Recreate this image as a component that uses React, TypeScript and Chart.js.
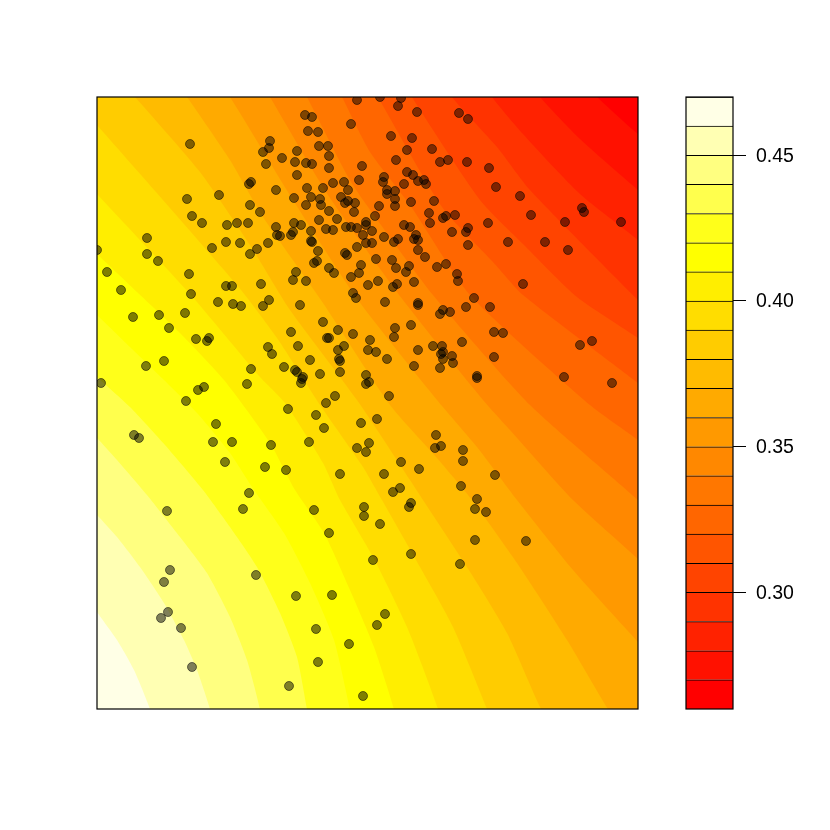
import React, { useEffect, useRef } from "react";
import { Chart, registerables } from "chart.js";

Chart.register(...registerables);

const pointX = [190,270,269,263,266,251,249,276,219,187,250,260,192,202,227,237,248,276,277,147,226,240,268,212,257,250,147,158,97,107,189,226,232,261,121,191,269,
357,305,312,351,308,318,319,328,297,329,282,295,306,312,329,362,297,359,333,344,307,323,348,294,311,320,341,345,348,355,306,321,
380,401,398,417,459,468,391,412,407,432,396,448,440,467,489,496,407,413,418,424,426,384,383,404,387,387,395,395,411,434,379,395,
520,582,584,531,488,565,621,508,545,568,523,
329,354,375,294,301,319,337,326,333,346,351,357,366,366,311,293,291,280,363,372,311,312,372,366,357,318,345,347,376,317,314,361,329,334,359,351,296,293,306,368,378,353,356,263,300,
429,455,446,443,404,410,430,468,466,452,384,398,394,416,414,418,468,418,425,392,396,409,406,437,446,457,458,414,397,393,474,385,418,418,466,490,443,450,
218,233,241,133,159,185,169,196,209,207,268,272,251,164,146,247,101,204,198,186,216,134,139,213,232,271,225,265,249,
323,291,338,353,395,411,394,370,327,329,298,344,338,368,376,387,418,414,310,339,340,284,295,297,303,302,301,320,340,366,369,366,389,335,326,288,
440,494,503,462,433,442,592,580,443,441,452,443,453,494,440,477,477,564,612,
316,377,361,324,436,441,435,463,309,369,357,366,401,419,463,286,340,384,495,400,393,461,477,411,409,475,486,364,364,314,380,329,475,411,373,
167,243,170,164,256,296,332,168,161,385,377,181,316,349,192,318,289,363,526,460];

const pointY = [144,141,148,152,164,182,184,190,195,199,205,212,216,223,225,223,223,227,235,238,242,243,243,248,249,254,254,261,250,272,274,286,286,284,290,294,300,
100,115,117,124,131,132,146,146,151,156,158,162,163,164,168,166,175,180,183,182,188,188,190,198,197,199,197,203,201,203,205,205,
97,98,106,112,113,119,136,138,150,149,160,160,162,162,168,187,172,175,181,180,184,177,182,184,190,194,191,199,202,201,206,206,
196,208,212,215,223,222,222,242,242,250,284,
211,212,216,223,225,220,219,229,230,227,227,228,222,225,231,232,235,236,235,231,241,242,243,243,247,251,253,255,259,261,263,265,268,273,273,277,272,280,281,285,281,293,298,306,305,
213,215,216,218,225,227,223,228,232,232,237,239,242,235,239,240,245,250,257,260,268,266,272,267,264,274,281,282,284,287,298,302,303,305,307,307,310,312,
302,304,306,317,315,313,328,339,338,341,347,354,369,361,366,384,383,387,390,401,424,435,438,442,442,445,462,467,493,
322,332,330,334,328,325,337,340,338,338,346,346,350,350,352,359,350,366,360,359,361,367,370,372,377,379,383,374,372,375,382,384,396,396,403,409,
314,332,333,342,346,346,341,345,352,354,356,359,363,357,368,376,378,377,383,
415,419,423,428,435,446,448,450,442,443,448,452,462,469,461,470,474,474,475,488,492,486,499,503,507,509,512,507,516,510,524,533,540,554,560,
511,509,570,582,575,596,595,612,618,614,625,628,629,644,667,662,686,696,541,564];

const contour26 = [[40,47],[700,47]];
const contour27 = [[40,47],[545,47],[597,97],[638,134],[690,170]];
const contour28 = [[40,47],[500,47],[540,97],[580,139],[638,190],[690,235]];
const contour29 = [[40,47],[460,47],[492,97],[523,134],[580,194],[638,240],[690,285]];
const contour30 = [[40,47],[420,47],[452,97],[497,147],[530,190],[638,300],[690,350]];
const contour31 = [[40,47],[385,47],[412,97],[480,200],[523,244],[577,297],[638,338],[690,375]];
const contour32 = [[40,47],[350,47],[378,97],[442,207],[493,262],[523,295],[638,383],[690,425]];
const contour33 = [[40,47],[315,47],[342,97],[370,152],[410,205],[470,295],[590,405],[638,440],[690,480]];
const contour34 = [[40,47],[280,47],[307,97],[347,175],[363,200],[433,295],[530,405],[638,500],[690,550]];
const contour35 = [[40,47],[240,47],[270,97],[328,195],[403,300],[483,400],[510,430],[573,500],[638,559],[690,610]];
const contour36 = [[40,47],[195,47],[230,97],[293,200],[358,300],[437,400],[477,447],[517,500],[573,570],[638,642],[690,700]];
const contour37 = [[40,47],[150,47],[187,97],[230,160],[263,217],[323,303],[390,405],[437,458],[472,500],[517,563],[567,640],[608,709],[650,770]];
const contour38 = [[40,47],[90,47],[135,97],[200,172],[250,245],[290,310],[357,400],[410,480],[423,500],[467,567],[507,633],[541,709],[575,770]];
const contour39 = [[57,80],[97,125],[237,285],[277,338],[320,405],[363,467],[382,500],[420,567],[453,627],[487,709],[510,770]];
const contour40 = [[57,150],[97,194],[190,294],[260,377],[285,403],[323,463],[340,500],[373,557],[407,627],[438,709],[455,770]];
const contour41 = [[57,217],[97,254],[137,292],[180,333],[224,380],[270,443],[295,490],[324,533],[350,590],[374,647],[394,709],[410,770]];
const contour42 = [[57,278],[97,315],[130,347],[164,380],[197,413],[230,453],[254,490],[284,533],[310,583],[334,640],[350,709],[365,770]];
const contour43 = [[57,340],[97,377],[130,407],[165,445],[203,490],[230,527],[257,567],[280,613],[297,657],[307,709],[318,770]];
const contour44 = [[57,398],[97,438],[117,460],[147,495],[180,537],[207,573],[230,617],[247,660],[260,709],[272,770]];
const contour45 = [[57,475],[97,515],[117,537],[140,567],[164,603],[184,640],[197,670],[210,709],[225,770]];
const contour46 = [[57,552],[97,612],[117,640],[134,670],[150,709],[170,770]];

const contours = [contour26,contour27,contour28,contour29,contour30,contour31,contour32,contour33,contour34,contour35,contour36,contour37,contour38,contour39,contour40,contour41,contour42,contour43,contour44,contour45,contour46];

const levels = [0.26,0.27,0.28,0.29,0.30,0.31,0.32,0.33,0.34,0.35,0.36,0.37,0.38,0.39,0.40,0.41,0.42,0.43,0.44,0.45,0.46,0.47];
const heatColors = ["#FF0000","#FF1100","#FF2200","#FF3300","#FF4400","#FF5500","#FF6600","#FF7700","#FF8800","#FF9900","#FFAA00","#FFBB00","#FFCC00","#FFDD00","#FFEE00","#FFFF00","#FFFF1A","#FFFF4D","#FFFF80","#FFFFB3","#FFFFE6"];
const tickValues = [0.30,0.35,0.40,0.45];

const framePlugin = {
  id: "frame",
  afterDraw(chart: any) {
    const { ctx, chartArea: a } = chart;
    ctx.save();
    ctx.strokeStyle = "#000";
    ctx.lineWidth = 1.2;
    ctx.strokeRect(a.left, a.top, a.right - a.left, a.bottom - a.top);
    ctx.restore();
  },
};

const layer: React.CSSProperties = { position: "absolute", left: 0, top: 0 };

export default function App() {
  const mainRef = useRef<HTMLCanvasElement>(null);
  const barRef = useRef<HTMLCanvasElement>(null);

  useEffect(() => {
    const bands = contours
      .map((c, i) => ({
        type: "scatter" as const,
        data: c.map(([x, y]) => ({ x, y })),
        showLine: true,
        pointRadius: 0,
        tension: 0.2,
        borderWidth: 0,
        borderColor: "rgba(0,0,0,0)",
        backgroundColor: heatColors[i],
        fill: "start",
      }))
      .reverse();

    const main = new Chart(mainRef.current!, {
      type: "scatter",
      data: {
        datasets: [
          {
            data: pointX.map((x, i) => ({ x, y: pointY[i] })),
            pointRadius: 4.5,
            pointBorderWidth: 1,
            pointBackgroundColor: "rgba(0,0,0,0.5)",
            pointBorderColor: "rgba(0,0,0,0.5)",
            clip: 0,
          },
          ...bands,
        ] as any,
      },
      options: {
        responsive: false,
        animation: false,
        layout: { padding: { left: 97, right: 192, top: 97, bottom: 121 } },
        plugins: { legend: { display: false }, tooltip: { enabled: false } },
        events: [],
        scales: {
          x: { type: "linear", min: 97, max: 638, display: false },
          y: { type: "linear", min: 97, max: 709, reverse: true, display: false },
        },
      },
      plugins: [framePlugin],
    });

    const bar = new Chart(barRef.current!, {
      type: "bar",
      data: {
        labels: ["level"],
        datasets: heatColors.map((color, i) => ({
          data: [[levels[i], levels[i + 1]]],
          backgroundColor: color,
          borderColor: "#000",
          borderWidth: { top: 1, bottom: 0, left: 0, right: 0 },
          borderSkipped: false,
          barPercentage: 1,
          categoryPercentage: 1,
          grouped: false,
        })) as any,
      },
      options: {
        responsive: false,
        animation: false,
        layout: { padding: { left: 686, right: 0, top: 97, bottom: 121 } },
        plugins: { legend: { display: false }, tooltip: { enabled: false } },
        events: [],
        scales: {
          x: { display: false },
          y: {
            position: "right",
            min: 0.26,
            max: 0.47,
            afterBuildTicks: (s: any) => {
              s.ticks = tickValues.map((value) => ({ value }));
            },
            afterFit: (s: any) => {
              s.width = 97;
            },
            border: { display: false },
            grid: { drawOnChartArea: false, color: "#000", tickColor: "#000", tickLength: 13, tickWidth: 1 },
            ticks: {
              color: "#000",
              padding: 10,
              labelOffset: 1,
              font: { family: "'Liberation Sans', Arial, sans-serif", size: 19.5 },
              callback: (v: any) => Number(v).toFixed(2),
            },
          },
        },
      },
      plugins: [framePlugin],
    });

    return () => {
      main.destroy();
      bar.destroy();
    };
  }, []);

  return (
    <div style={{ position: "absolute", left: 0, top: 0, width: 830, height: 830, background: "#fff" }}>
      <canvas ref={mainRef} width={830} height={830} style={layer} />
      <canvas ref={barRef} width={830} height={830} style={layer} />
    </div>
  );
}
